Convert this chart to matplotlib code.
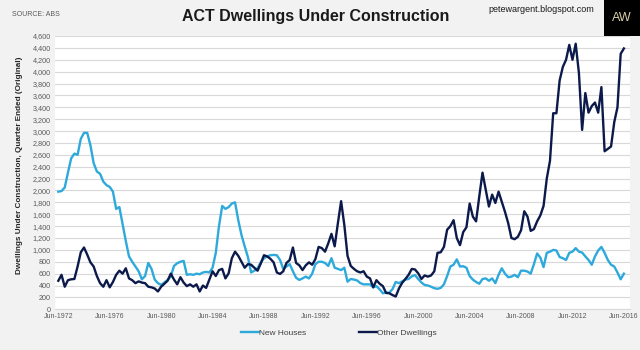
import matplotlib
matplotlib.use("Agg")
import matplotlib.pyplot as plt
from matplotlib.patches import Rectangle
import numpy as np

new_houses = [
    1980, 1990, 2050, 2300, 2540, 2620, 2600, 2870, 2970, 2970,
    2760, 2460, 2320, 2280, 2150, 2090, 2060, 1980, 1690, 1720,
    1430, 1150, 890, 800, 720, 640, 505, 560, 780, 680,
    500, 440, 410, 450, 495, 550, 730, 775, 800, 815,
    580, 590, 580, 600, 590, 620, 630, 620, 700, 950,
    1400, 1740, 1690, 1720, 1780, 1800, 1500, 1250, 1060, 880,
    620, 650, 690, 790, 860, 890, 910, 915, 910, 830,
    680, 720, 760, 640, 530, 495, 520, 550, 520, 600,
    760, 800, 800, 780, 730, 860, 700, 680, 660, 700,
    465, 510, 500, 485, 440, 420, 420, 420, 370, 390,
    335, 270, 280, 280, 340, 460, 440, 470, 500, 510,
    555, 575, 510, 450, 410, 400, 380, 355, 345, 360,
    420, 560, 720, 750, 840, 720, 725, 700, 560, 500,
    460, 430, 510, 520, 480, 520, 440, 580, 690, 600,
    540, 550, 580, 540, 650, 650, 635, 600, 760, 940,
    870, 710, 950, 970, 1000, 990, 880, 860, 830, 950,
    970, 1030, 970, 955, 890, 830, 750, 890, 990, 1050,
    950, 830, 750, 720, 620, 505, 600,
]

other_dwellings = [
    480, 580, 380, 490, 505, 510, 720, 960, 1040, 920,
    790, 720, 560, 440, 380, 490, 370, 460, 580, 650,
    600, 690, 520, 490, 440, 470, 450, 440, 380, 370,
    350, 300, 380, 430, 480, 600, 500, 420, 540, 450,
    390, 420, 380, 420, 300, 400, 360, 500, 640, 560,
    660, 680, 520, 605, 860, 970, 900, 800, 700, 760,
    750, 700, 650, 770, 910, 890, 850, 790, 620, 595,
    640, 780, 830, 1040, 780, 740, 660, 740, 790, 750,
    845, 1050, 1030, 970, 1110, 1270, 1060, 1450, 1820, 1420,
    900, 730, 680, 640, 620, 640, 550, 520, 370, 490,
    430, 390, 275, 270, 240, 215, 350, 445, 510, 580,
    680, 670, 605, 510, 570, 550, 570, 640, 950, 960,
    1050, 1340, 1400, 1500, 1200, 1080, 1300, 1380, 1780, 1560,
    1480, 1900, 2300, 2010, 1730, 1930, 1790, 1980, 1810, 1640,
    1450, 1200, 1180, 1220, 1330, 1650, 1560, 1320, 1350, 1480,
    1580, 1740, 2200, 2500, 3300, 3300, 3850, 4080, 4200, 4450,
    4200, 4470, 3980, 3020, 3640, 3310, 3420, 3480, 3310, 3740,
    2660, 2700, 2740, 3150, 3400, 4300, 4390,
]

tick_labels = ["Jun-1972", "Jun-1976", "Jun-1980", "Jun-1984", "Jun-1988",
               "Jun-1992", "Jun-1996", "Jun-2000", "Jun-2004", "Jun-2008",
               "Jun-2012", "Jun-2016"]
y_ticks = list(range(0, 4601, 200))

SANS = ["Liberation Sans", "DejaVu Sans"]

bg = "#f2f2f2"
fig = plt.figure(figsize=(6.4, 3.5), dpi=100, facecolor=bg)
ax = fig.add_axes([55/640, 1 - 309.3/350, 575/640, 273.3/350])
ax.set_facecolor("white")

x = np.arange(len(new_houses))
ax.plot(x, new_houses, color="#2ea9db", lw=1.7, label="New Houses", solid_joinstyle="round")
ax.plot(x, other_dwellings, color="#0c1a4b", lw=1.7, label="Other Dwellings", solid_joinstyle="round")

ax.set_xlim(-1.03, 177.9)
ax.set_ylim(0, 4600)
ax.set_yticks(y_ticks)
ax.set_yticklabels([f"{v:,}" for v in y_ticks], fontfamily=SANS, fontsize=5.2, color="#595959")
ax.set_xticks(np.arange(0, len(new_houses), 16))
ax.set_xticklabels(tick_labels, fontfamily=SANS, fontsize=5.0, color="#595959")
ax.tick_params(length=0, pad=3)
ax.grid(axis="y", color="#d9d9d9", lw=0.8)
ax.set_axisbelow(True)
for s in ["top", "right", "left"]:
    ax.spines[s].set_visible(False)
ax.spines["bottom"].set_color("#d9d9d9")
ax.spines["bottom"].set_linewidth(0.8)

fig.text(20/640, 1 - 165/350, "Dwellings Under Construction, Quarter Ended (Original)",
         rotation=90, ha="center", va="center", fontfamily=SANS, fontsize=5.9,
         fontweight="bold", color="#262626")

fig.text(316/640, 1 - 17/350, "ACT Dwellings Under Construction", ha="center", va="center",
         fontfamily=SANS, fontsize=11.5, fontweight="bold", color="#1a1a1a")
fig.text(12/640, 1 - 15/350, "SOURCE: ABS", ha="left", va="center",
         fontfamily=SANS, fontsize=5, color="#595959")
fig.text(541/640, 1 - 9/350, "petewargent.blogspot.com", ha="center", va="center",
         fontfamily=SANS, fontsize=6.5, color="#1a1a1a")

fig.patches.append(Rectangle((604/640, 1 - 36/350), 36/640, 36/350,
                             transform=fig.transFigure, facecolor="black", edgecolor="none"))
fig.text(622/640, 1 - 18/350, "AW", ha="center", va="center", fontfamily=SANS,
         fontsize=9, color="#d8cfa8")

leg = fig.legend(loc="center", bbox_to_anchor=(339/640, 1 - 333/350), ncol=2,
                 frameon=False, prop={"family": SANS, "size": 6},
                 handlelength=2.15, handletextpad=0.0, columnspacing=6.4)
for t in leg.get_texts():
    t.set_color("#404040")

fig.savefig("out.png", dpi=100, facecolor=bg)
